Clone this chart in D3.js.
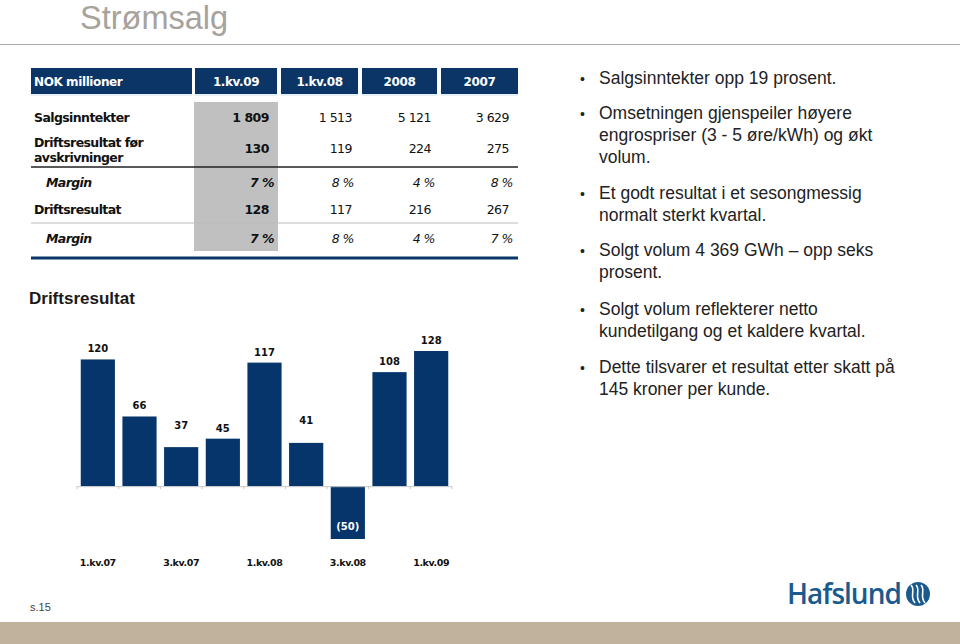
<!DOCTYPE html>
<html>
<head>
<meta charset="utf-8">
<script src="https://cdn.jsdelivr.net/npm/d3@7"></script>
<style>
  body { margin: 0; background: #fff; }
  svg { display: block; }
</style>
</head>
<body>
<div id="slide"></div>
<script>
// DATA
var quarters = ["1.kv.07", "2.kv.07", "3.kv.07", "4.kv.07", "1.kv.08", "2.kv.08", "3.kv.08", "4.kv.08", "1.kv.09"];
var driftsresultat = [120, 66, 37, 45, 117, 41, -50, 108, 128];
var shownTicks = ["1.kv.07", "3.kv.07", "1.kv.08", "3.kv.08", "1.kv.09"];

var tableCols = ["1.kv.09", "1.kv.08", "2008", "2007"];
var rowLabels = ["Salgsinntekter", "Driftsresultat før|avskrivninger", "Margin", "Driftsresultat", "Margin"];
var salgsinntekter = ["1 809", "1 513", "5 121", "3 629"];
var ebitda = ["130", "119", "224", "275"];
var ebitdaMargin = ["7 %", "8 %", "4 %", "8 %"];
var ebit = ["128", "117", "216", "267"];
var ebitMargin = ["7 %", "8 %", "4 %", "7 %"];

var bullets = [
  ["Salgsinntekter opp 19 prosent."],
  ["Omsetningen gjenspeiler høyere", "engrospriser (3 - 5 øre/kWh) og økt", "volum."],
  ["Et godt resultat i et sesongmessig", "normalt sterkt kvartal."],
  ["Solgt volum 4 369 GWh – opp seks", "prosent."],
  ["Solgt volum reflekterer netto", "kundetilgang og et kaldere kvartal."],
  ["Dette tilsvarer et resultat etter skatt på", "145 kroner per kunde."]
];

var navy = "#0b3566";
var verdana = "'DejaVu Sans', Verdana, sans-serif";
var arial = "'Liberation Sans', Arial, sans-serif";

var svg = d3.select("#slide").append("svg")
    .attr("width", 960)
    .attr("height", 644);

// title
svg.append("text")
    .attr("x", 80).attr("y", 29)
    .style("font-family", arial).style("font-size", "32.5px")
    .style("fill", "#a8a29c")
    .text("Strømsalg");
svg.append("line")
    .attr("x1", 0).attr("x2", 960).attr("y1", 44.5).attr("y2", 44.5)
    .style("stroke", "#aaaaaa").style("stroke-width", 1.2);

// TABLE
var headCells = [
  {x: 31, w: 161, t: "NOK millioner", left: true},
  {x: 195, w: 82, t: tableCols[0]},
  {x: 281, w: 77, t: tableCols[1]},
  {x: 362, w: 75, t: tableCols[2]},
  {x: 441, w: 77, t: tableCols[3]}
];
var head = svg.append("g");
head.selectAll("rect").data(headCells).enter().append("rect")
    .attr("x", function(d) { return d.x; })
    .attr("y", 68).attr("width", function(d) { return d.w; }).attr("height", 26)
    .style("fill", navy);
head.selectAll("line").data(headCells).enter().append("line")
    .attr("x1", function(d) { return d.x; }).attr("x2", function(d) { return d.x + d.w; })
    .attr("y1", 95).attr("y2", 95)
    .style("stroke", "#cfe0f3").style("stroke-width", 1);
head.selectAll("text").data(headCells).enter().append("text")
    .attr("x", function(d) { return d.left ? d.x + 3 : d.x + d.w / 2; })
    .attr("y", 85.5)
    .attr("text-anchor", function(d) { return d.left ? "start" : "middle"; })
    .style("font-family", verdana).style("font-size", "12px").style("font-weight", "bold")
    .style("letter-spacing", "-0.4px")
    .style("fill", "#fff")
    .text(function(d) { return d.t; });

// highlight column
svg.append("rect")
    .attr("x", 194).attr("y", 102).attr("width", 84).attr("height", 149)
    .style("fill", "#c0c0c0");

// separators
svg.append("line").attr("x1", 31).attr("x2", 518).attr("y1", 167).attr("y2", 167)
    .style("stroke", "#222").style("stroke-width", 1.5);
svg.append("line").attr("x1", 31).attr("x2", 518).attr("y1", 223).attr("y2", 223)
    .style("stroke", "#bbbbbb").style("stroke-width", 1);
svg.append("line").attr("x1", 31).attr("x2", 518).attr("y1", 258).attr("y2", 258)
    .style("stroke", navy).style("stroke-width", 3);

var rows = [
  {label: rowLabels[0], y: 122, vals: salgsinntekter, margin: false},
  {label: rowLabels[1], y: 153, vals: ebitda, margin: false},
  {label: rowLabels[2], y: 187, vals: ebitdaMargin, margin: true},
  {label: rowLabels[3], y: 214, vals: ebit, margin: false},
  {label: rowLabels[4], y: 243, vals: ebitMargin, margin: true}
];
var colRight = [269, 352, 431, 509];
var colRightPct = [274, 354, 435, 513];

rows.forEach(function(r) {
  var lines = r.label.split("|");
  var lab = svg.append("text")
      .attr("x", r.margin ? 46 : 34)
      .style("font-family", verdana).style("font-size", "12.5px").style("font-weight", "bold")
      .style("font-style", r.margin ? "italic" : "normal")
      .style("letter-spacing", "-0.6px")
      .style("fill", "#111");
  if (lines.length === 1) {
    lab.attr("y", r.y).text(lines[0]);
  } else {
    lab.attr("y", r.y - 6).text(lines[0]);
    svg.append("text").attr("x", 34).attr("y", r.y + 9)
        .style("font-family", verdana).style("font-size", "12.5px").style("font-weight", "bold")
        .style("letter-spacing", "-0.6px").style("fill", "#111")
        .text(lines[1]);
  }
  svg.append("g").selectAll("text").data(r.vals).enter().append("text")
      .attr("x", function(d, i) { return r.margin ? colRightPct[i] : colRight[i]; })
      .attr("y", r.y)
      .attr("text-anchor", "end")
      .style("font-family", verdana).style("font-size", "12.5px")
      .style("font-weight", function(d, i) { return i === 0 ? "bold" : "normal"; })
      .style("font-style", r.margin ? "italic" : "normal")
      .style("letter-spacing", "-0.5px")
      .style("fill", "#111")
      .text(function(d) { return d; });
});

// BAR CHART
svg.append("text")
    .attr("x", 29).attr("y", 304)
    .style("font-family", arial).style("font-size", "17px").style("font-weight", "bold")
    .style("fill", "#1a1a1a")
    .text("Driftsresultat");

var x = d3.scaleBand()
    .domain(quarters)
    .range([77, 452])
    .paddingInner(0.18)
    .paddingOuter(0.09);
var y = d3.scaleLinear()
    .domain([d3.min(driftsresultat), d3.max(driftsresultat)])
    .range([539, 351]);

var chart = svg.append("g");

chart.selectAll(".bar")
    .data(driftsresultat)
    .enter().append("rect")
    .attr("class", "bar")
    .attr("x", function(d, i) { return x(quarters[i]); })
    .attr("width", x.bandwidth())
    .attr("y", function(d) { return y(Math.max(0, d)); })
    .attr("height", function(d) { return Math.abs(y(d) - y(0)); })
    .style("fill", "#05356a");

// zero axis with ticks at band edges
var edges = quarters.map(function(q) { return x(q) - x.step() * x.paddingInner() / 2; });
edges.push(452);
chart.append("line")
    .attr("x1", 77).attr("x2", 452).attr("y1", y(0) + 0.5).attr("y2", y(0) + 0.5)
    .style("stroke", "#c8c8c8");
chart.selectAll(".tick").data(edges).enter().append("line")
    .attr("x1", function(d) { return d; }).attr("x2", function(d) { return d; })
    .attr("y1", y(0)).attr("y2", y(0) + 3)
    .style("stroke", "#c8c8c8");

// a couple of labels sit higher in the original slide
var lift = {"3.kv.07": 11, "2.kv.08": 12};
chart.selectAll(".lbl")
    .data(driftsresultat)
    .enter().append("text")
    .attr("x", function(d, i) { return x(quarters[i]) + x.bandwidth() / 2; })
    .attr("y", function(d, i) { return d >= 0 ? y(d) - 7 - (lift[quarters[i]] || 0) : y(d) - 9; })
    .attr("text-anchor", "middle")
    .style("font-family", verdana).style("font-size", "10px").style("font-weight", "bold")
    .style("fill", function(d) { return d >= 0 ? "#111" : "#fff"; })
    .text(function(d) { return d >= 0 ? d : "(" + Math.abs(d) + ")"; });

chart.selectAll(".xl")
    .data(shownTicks)
    .enter().append("text")
    .attr("x", function(d) { return x(d) + x.bandwidth() / 2; })
    .attr("y", 566)
    .attr("text-anchor", "middle")
    .style("font-family", verdana).style("font-size", "9.5px").style("font-weight", "bold")
    .style("letter-spacing", "-0.4px")
    .style("fill", "#111")
    .text(function(d) { return d; });

// BULLETS
var by = [84, 119, 199, 256, 315, 373];
bullets.forEach(function(lines, i) {
  svg.append("text")
      .attr("x", 580).attr("y", by[i])
      .style("font-family", arial).style("font-size", "14px")
      .style("fill", "#222")
      .text("•");
  lines.forEach(function(l, j) {
    svg.append("text")
        .attr("x", 599).attr("y", by[i] + j * 22)
        .style("font-family", arial).style("font-size", "17.5px")
        .style("fill", "#222")
        .text(l);
  });
});

// FOOTER
svg.append("text")
    .attr("x", 30).attr("y", 611)
    .style("font-family", arial).style("font-size", "11px")
    .style("fill", "#444")
    .text("s.15");
svg.append("rect")
    .attr("x", 0).attr("y", 622).attr("width", 960).attr("height", 22)
    .style("fill", "#c0b29d");

// logo
var logoBlue = "#1b5a8e";
svg.append("text")
    .attr("x", 787).attr("y", 604)
    .style("font-family", "'Open Sans', sans-serif").style("font-size", "28px").style("font-weight", "600")
    .style("letter-spacing", "-1px")
    .style("fill", logoBlue)
    .text("Hafslund");
var emb = svg.append("g").attr("transform", "translate(918,594)");
emb.append("circle").attr("r", 12).style("fill", logoBlue);
[-5, 0, 5].forEach(function(dx) {
  emb.append("path")
      .attr("d", "M" + (dx - 2) + ",-9 C" + (dx + 3) + ",-4 " + (dx - 4) + ",2 " + (dx + 2) + ",9")
      .style("fill", "none").style("stroke", "#fff").style("stroke-width", 1.6);
});
</script>
</body>
</html>
